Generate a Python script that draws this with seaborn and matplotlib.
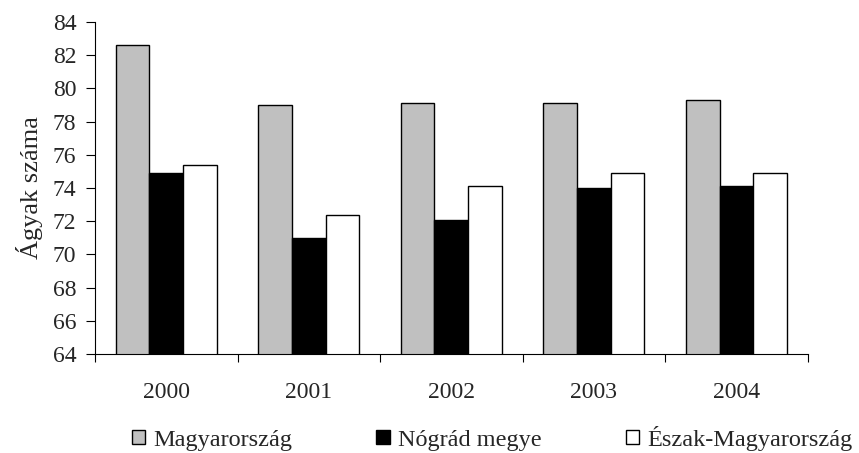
import matplotlib
matplotlib.use("Agg")
import matplotlib.pyplot as plt
import seaborn as sns
import pandas as pd
from matplotlib.patches import Patch
from matplotlib.ticker import FixedLocator, MultipleLocator

years = ["2000", "2001", "2002", "2003", "2004"]
series = ["Magyarország", "Nógrád megye", "Észak-Magyarország"]
magyarorszag = [82.6, 79.0, 79.1, 79.1, 79.3]
nograd = [74.9, 71.0, 72.1, 74.0, 74.1]
eszak = [75.4, 72.4, 74.1, 74.9, 74.9]
colors = ["#C0C0C0", "#000000", "#FFFFFF"]

df = pd.DataFrame({
    "year": years * 3,
    "series": [series[0]] * 5 + [series[1]] * 5 + [series[2]] * 5,
    "value": magyarorszag + nograd + eszak,
})

sns.set_theme(style="white")
plt.rcParams["font.family"] = ["Liberation Serif", "DejaVu Serif"]

fig = plt.figure(figsize=(8.59, 4.53), dpi=100)
ax = fig.add_axes([0.1106, 0.2185, 0.8296, 0.7329])

sns.barplot(data=df, x="year", y="value", hue="series", hue_order=series,
            palette=colors, width=0.71, edgecolor="black", linewidth=1.0,
            ax=ax, legend=False, saturation=1)

ax.set_ylim(64, 84)
ax.set_xlim(-0.5, len(years) - 0.5)
ax.yaxis.set_major_locator(MultipleLocator(2))
ax.tick_params(axis="y", labelsize=17, length=6.5, width=0.8, color="black",
               direction="out", left=True, pad=7)

# category boundaries carry the ticks, labels sit at the centres
ax.xaxis.set_major_locator(FixedLocator([i - 0.5 for i in range(len(years) + 1)]))
ax.xaxis.set_minor_locator(FixedLocator(list(range(len(years)))))
ax.set_xticklabels([], minor=False)
ax.set_xticklabels(years, minor=True)
ax.tick_params(axis="x", which="major", length=6, width=0.8, color="black",
               direction="out", bottom=True)
ax.tick_params(axis="x", which="minor", length=0, labelsize=17, pad=20)

for side in ["top", "right"]:
    ax.spines[side].set_visible(False)
for side in ["left", "bottom"]:
    ax.spines[side].set_color("black")
    ax.spines[side].set_linewidth(0.8)

ax.set_xlabel("")
ax.set_ylabel("Ágyak száma", fontsize=19, labelpad=7)

handles = [Patch(facecolor=c, edgecolor="black", linewidth=1.0) for c in colors]
fig.legend(handles, series, loc="center", bbox_to_anchor=(0.573, 0.033),
           ncol=3, frameon=False, fontsize=17.5, handlelength=0.55,
           handleheight=0.55, handletextpad=0.35, columnspacing=3.45,
           borderpad=0)

fig.savefig("out.png", dpi=100, facecolor="white")
